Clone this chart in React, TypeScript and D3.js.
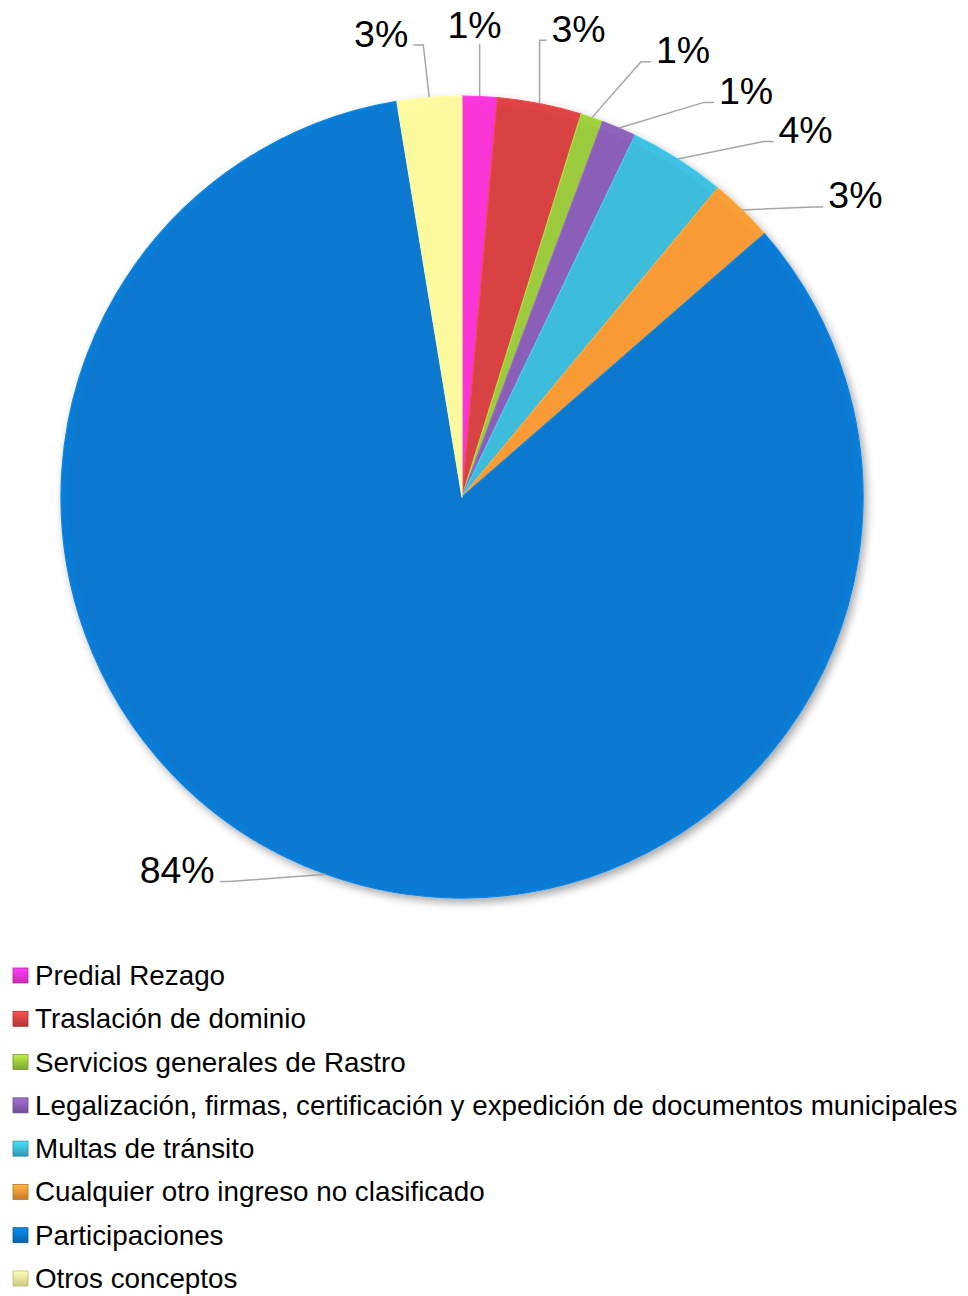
import React, { useEffect, useRef } from 'react'
import * as d3 from 'd3'

const categories = [
  'Predial Rezago',
  'Traslación de dominio',
  'Servicios generales de Rastro',
  'Legalización, firmas, certificación y expedición de documentos municipales',
  'Multas de tránsito',
  'Cualquier otro ingreso no clasificado',
  'Participaciones',
  'Otros conceptos',
]
const values = [1.4, 3.4, 0.9, 1.4, 3.9, 2.6, 83.8, 2.6]
const colors = ['#F935D6', '#D94343', '#9CCB3C', '#8B5FB7', '#3DBCDC', '#F89A34', '#0878D0', '#FBFA9E']

// label layout: angle nudge (deg) from the slice middle, distance past the rim
const labelNudge = [-1, 2.8, 7.4, 11.9, 10.5, 8.2, 17.6, -5.2]
const labelGap = [72, 82, 98, 95, 102, 95, 68, 70]

const W = 968
const H = 1296

function App() {
  const ref = useRef<SVGSVGElement>(null)

  useEffect(() => {
    const svg = d3.select(ref.current)
    svg.selectAll('*').remove()

    const cx = 462, cy = 497, r = 401
    const font = '"Liberation Sans", Arial, sans-serif'

    const defs = svg.append('defs')
    const filter = defs.append('filter').attr('id', 'shadow')
      .attr('x', '-10%').attr('y', '-10%').attr('width', '130%').attr('height', '130%')
    filter.append('feDropShadow')
      .attr('dx', 3).attr('dy', 4).attr('stdDeviation', 4)
      .attr('flood-color', '#000').attr('flood-opacity', 0.35)

    colors.forEach((c, i) => {
      const grad = defs.append('linearGradient').attr('id', `lg${i}`)
        .attr('x1', 0).attr('y1', 0).attr('x2', 0).attr('y2', 1)
      grad.append('stop').attr('offset', '0%').attr('stop-color', d3.color(c)!.brighter(0.5).formatHex())
      grad.append('stop').attr('offset', '100%').attr('stop-color', d3.color(c)!.darker(0.6).formatHex())
    })

    const total = d3.sum(values)
    const pie = d3.pie<number>().sort(null).value(d => d)
    const arcs = pie(values)
    const arc = d3.arc<d3.PieArcDatum<number>>().innerRadius(0).outerRadius(r)
    const rim = d3.arc<d3.PieArcDatum<number>>().innerRadius(r - 8).outerRadius(r - 1)

    const g = svg.append('g').attr('transform', `translate(${cx},${cy})`)
    const slices = g.append('g').attr('filter', 'url(#shadow)')

    slices.selectAll('path.slice')
      .data(arcs)
      .enter()
      .append('path')
      .attr('class', 'slice')
      .attr('d', arc)
      .attr('fill', (d, i) => colors[i])
      .attr('stroke', (d, i) => d3.color(colors[i])!.brighter(0.3).formatHex())
      .attr('stroke-width', 1.2)
      .attr('stroke-linejoin', 'round')

    // bevel highlight along the rim
    g.selectAll('path.rim')
      .data(arcs)
      .enter()
      .append('path')
      .attr('class', 'rim')
      .attr('d', rim)
      .attr('fill', (d, i) => d3.color(colors[i])!.brighter(0.3).formatHex())
      .attr('opacity', 0.25)

    // labels + leader lines
    const labels = g.append('g')
    arcs.forEach((d, i) => {
      const mid = (d.startAngle + d.endAngle) / 2
      const a = mid + labelNudge[i] * Math.PI / 180
      const R = r + labelGap[i]
      const lx = R * Math.sin(a)
      const ly = -R * Math.cos(a)
      const sx = r * Math.sin(mid)
      const sy = -r * Math.cos(mid)

      const t = labels.append('text')
        .attr('x', lx)
        .attr('y', ly)
        .attr('dy', '0.36em')
        .attr('text-anchor', 'middle')
        .style('font-family', font)
        .style('font-size', '37.5px')
        .attr('fill', '#000')
        .text(`${Math.round(values[i] / total * 100)}%`)
      const w = (t.node() as SVGTextElement).getComputedTextLength()

      let pts: [number, number][]
      if (Math.abs(sx - lx) < w / 2) {
        pts = [[sx, sy], [sx, ly + 20]]
      } else if (lx > sx) {
        const ex = lx - w / 2 - 5, ey = ly + 12
        pts = [[sx, sy], [Math.max(sx, ex - 10), ey], [ex, ey]]
      } else {
        const ex = lx + w / 2 + 5, ey = ly + 12
        pts = [[sx, sy], [Math.min(sx, ex + 10), ey], [ex, ey]]
      }
      labels.append('path')
        .attr('d', d3.line()(pts))
        .attr('fill', 'none')
        .attr('stroke', '#A6A6A6')
        .attr('stroke-width', 1.5)
    })

    // legend
    const y = d3.scaleLinear().domain([0, categories.length - 1]).range([985, 1288])
    const legend = svg.append('g')
    categories.forEach((c, i) => {
      legend.append('rect')
        .attr('x', 13)
        .attr('y', y(i) - 17)
        .attr('width', 15)
        .attr('height', 15)
        .attr('fill', `url(#lg${i})`)
        .attr('stroke', d3.color(colors[i])!.darker(0.8).formatHex())
        .attr('stroke-width', 0.8)
      legend.append('text')
        .attr('x', 35)
        .attr('y', y(i))
        .style('font-family', font)
        .style('font-size', '27.8px')
        .attr('fill', '#000')
        .text(c)
    })
  }, [])

  return (
    <svg
      ref={ref}
      width={W}
      height={H}
      style={{ position: 'absolute', left: 0, top: 0, background: '#fff' }}
    />
  )
}

export default App
